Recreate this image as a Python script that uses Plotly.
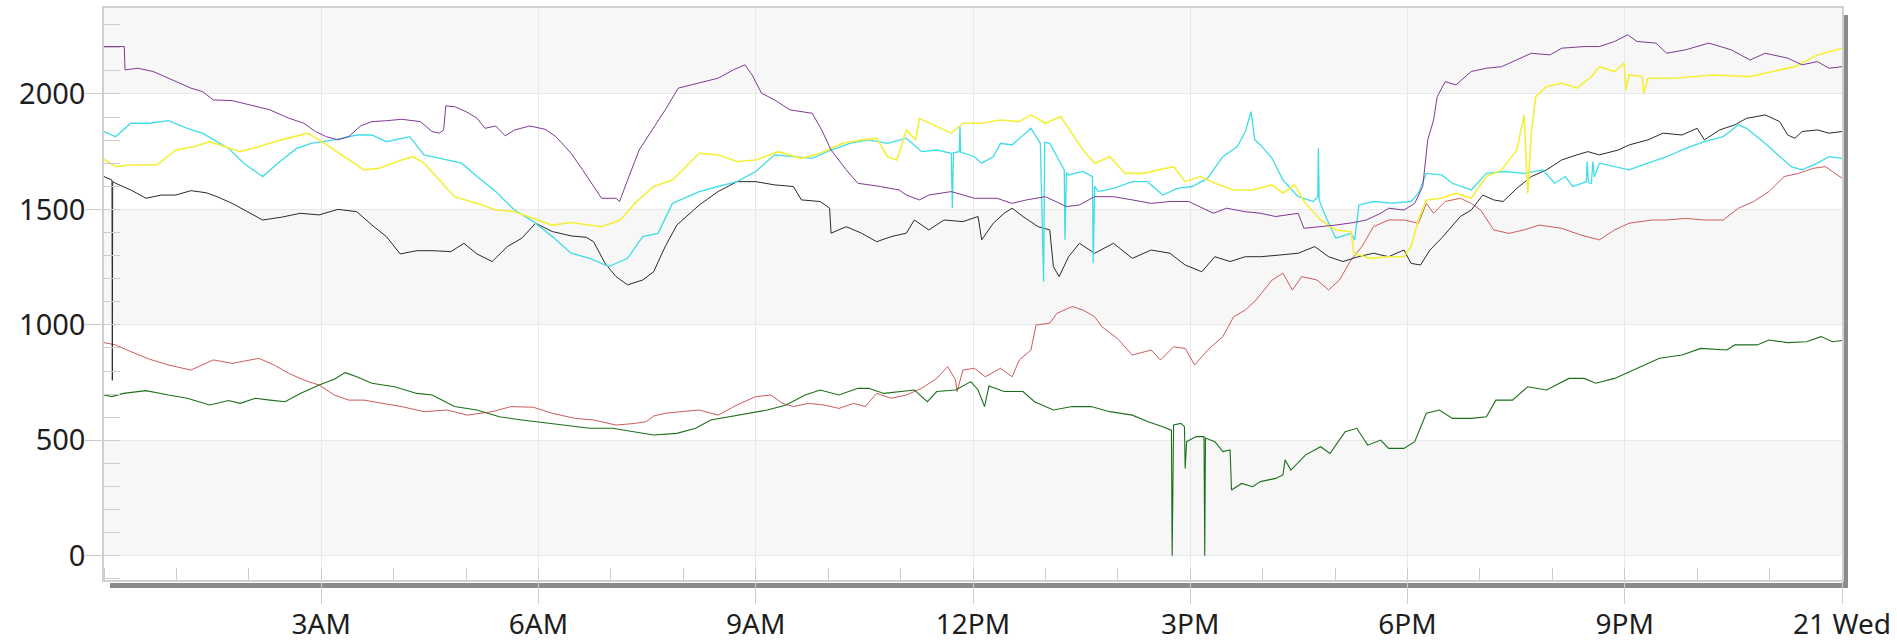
import plotly.graph_objects as go

# Readings over one day, x in hours since midnight.
purple_h = [0.0, 0.28, 0.29, 0.47, 0.68, 1.0, 1.2, 1.36, 1.51, 1.77, 2.03, 2.29, 2.55, 2.76, 2.92, 3.07, 3.23, 3.38,
            3.54, 3.70, 3.90, 4.11, 4.37, 4.53, 4.63, 4.69, 4.72, 4.84, 5.0, 5.15, 5.26, 5.41, 5.54, 5.67, 5.88, 6.09,
            6.24, 6.45, 6.61, 6.76, 6.87, 7.07, 7.12, 7.23, 7.39, 7.54, 7.75, 7.93,
            8.22, 8.48, 8.69, 8.85, 8.95, 9.08, 9.26, 9.47, 9.78, 9.91, 10.04, 10.25, 10.41, 10.72, 10.98, 11.08, 11.26,
            11.39, 11.70, 12.02, 12.33, 12.54, 12.74, 13.0, 13.29, 13.47, 13.68, 13.94, 14.20, 14.46, 14.72, 14.98,
            15.32, 15.50, 15.76,
            15.97, 16.18, 16.49, 16.57, 16.80, 17.01, 17.26, 17.43, 17.63, 17.74, 17.95, 18.10, 18.21, 18.28, 18.36,
            18.41, 18.52, 18.67, 18.88, 19.09, 19.30, 19.51, 19.71, 19.97, 20.13, 20.44, 20.65, 20.86, 21.04, 21.17,
            21.43, 21.58, 21.84, 22.16, 22.47, 22.73, 22.94, 23.25, 23.45, 23.66, 23.82, 24.0]
purple_v = [2205, 2205, 2104, 2111, 2097, 2053, 2025, 2010, 1974, 1971, 1952, 1931, 1895, 1873, 1837, 1815, 1801, 1815,
            1861, 1880, 1884, 1890, 1880, 1837, 1830, 1844, 1948, 1945, 1923, 1895, 1851, 1861, 1818, 1844, 1861, 1847,
            1815, 1743, 1671, 1599, 1548, 1548, 1534, 1627, 1757, 1830, 1931, 2025,
            2046, 2068, 2104, 2126, 2082, 2003, 1974, 1931, 1916, 1844, 1757, 1671, 1613, 1599, 1584, 1562, 1541,
            1562, 1577, 1548, 1548, 1526, 1541, 1555, 1512, 1519, 1555, 1555, 1541, 1526, 1534, 1534,
            1483, 1505, 1490,
            1483, 1469, 1483, 1418, 1425, 1432, 1443, 1454, 1483, 1505, 1497, 1526, 1599, 1801, 1887,
            1988, 2053, 2039, 2097, 2111, 2118, 2147, 2176, 2169, 2198, 2205, 2205, 2227, 2256, 2227,
            2220, 2176, 2191, 2220, 2191, 2147, 2176, 2155, 2126, 2140, 2111, 2118]

yellow_h = [0.0, 0.16, 0.37, 0.73, 0.99, 1.25, 1.46, 1.67, 1.88, 2.14, 2.45, 2.81, 2.97, 3.18, 3.38, 3.59, 3.80, 4.11,
            4.27, 4.42, 4.63, 4.84, 5.15, 5.41, 5.67, 5.98, 6.19, 6.45, 6.87, 7.13, 7.33, 7.59, 7.85,
            8.22, 8.48, 8.74, 9.0, 9.31, 9.63, 9.89, 10.2, 10.46, 10.67, 10.82, 10.95, 11.08, 11.21, 11.26, 11.50,
            11.70, 11.86, 12.12, 12.38, 12.64, 12.80, 13.0, 13.21, 13.37, 13.52, 13.68, 13.89, 14.1, 14.36, 14.56,
            14.77, 14.93, 15.14, 15.34, 15.60, 15.86,
            16.13, 16.28, 16.44, 16.59, 16.8, 17.01, 17.22, 17.26, 17.48, 17.74, 17.95, 18.05, 18.15, 18.26, 18.47,
            18.67, 18.88, 19.09, 19.30, 19.51, 19.61, 19.66, 19.71, 19.77, 19.92, 20.13, 20.34, 20.54, 20.65, 20.86,
            20.99, 21.02, 21.06, 21.24, 21.26, 21.32, 21.69, 22.21, 22.73, 23.04, 23.35, 23.66, 24.0]
yellow_v = [1717, 1685, 1692, 1692, 1757, 1772, 1793, 1772, 1750, 1772, 1801, 1830, 1801, 1757, 1714, 1671, 1678, 1714,
            1728, 1700, 1627, 1555, 1526, 1497, 1490, 1454, 1432, 1443, 1425, 1454, 1526, 1599, 1627,
            1743, 1736, 1707, 1714, 1750, 1721, 1743, 1786, 1801, 1808, 1728, 1714, 1844, 1801, 1894, 1858,
            1830, 1873, 1873, 1887, 1880, 1909, 1873, 1902, 1830, 1757, 1700, 1728, 1656, 1656, 1671,
            1685, 1620, 1642, 1613, 1584, 1584,
            1606, 1570, 1606, 1526, 1454, 1411, 1403, 1310, 1288, 1295, 1295, 1339, 1454, 1541, 1548,
            1570, 1548, 1642, 1671, 1757, 1909, 1570, 1830, 1988, 2032, 2046, 2025, 2075, 2118, 2097,
            2133, 2017, 2082, 2075, 2003, 2068, 2068, 2082, 2075, 2097, 2118, 2169, 2198]

cyan_h = [0.0, 0.16, 0.37, 0.63, 0.89, 1.15, 1.36, 1.51, 1.72, 1.93, 2.19, 2.40, 2.66, 2.86, 3.18, 3.49, 3.70, 3.90,
          4.22, 4.42, 4.63, 4.94, 5.15, 5.41, 5.67, 5.93, 6.19, 6.45, 6.71, 6.97, 7.23, 7.44, 7.65, 7.85, 7.96,
          8.22, 8.48, 8.74, 9.0, 9.26, 9.52, 9.78, 10.04, 10.30, 10.56, 10.82, 11.08, 11.29, 11.50, 11.70, 11.715,
          11.73, 11.81, 11.82, 11.83, 12.02, 12.12, 12.28, 12.38, 12.54, 12.80, 12.93, 12.975, 12.99, 13.06, 13.16,
          13.26, 13.27, 13.29, 13.32, 13.52, 13.65, 13.66, 13.68, 13.73, 13.94, 14.20, 14.41, 14.62, 14.82, 15.03,
          15.24, 15.45, 15.65, 15.76, 15.84, 15.89,
          15.97, 16.13, 16.28, 16.49, 16.70, 16.76, 16.77, 16.78, 16.85, 17.01, 17.22, 17.27, 17.33, 17.53, 17.79,
          18.05, 18.15, 18.26, 18.47, 18.62, 18.88, 19.09, 19.35, 19.61, 19.87, 20.03, 20.18, 20.28, 20.47, 20.48,
          20.50, 20.54, 20.56, 20.58, 20.65, 20.86, 21.06, 21.32, 21.58, 21.84, 22.10, 22.36, 22.57, 22.68, 22.88,
          23.09, 23.30, 23.45, 23.66, 23.82, 24.0]
cyan_v = [1837, 1815, 1873, 1873, 1884, 1851, 1830, 1801, 1764, 1700, 1642, 1700, 1764, 1786, 1801, 1822, 1822, 1793,
          1815, 1736, 1721, 1700, 1642, 1577, 1497, 1447, 1382, 1310, 1288, 1252, 1288, 1382, 1396, 1526, 1541,
          1577, 1599, 1620, 1664, 1736, 1728, 1721, 1757, 1786, 1801, 1786, 1808, 1750, 1757, 1743, 1505,
          1745, 1750, 1858, 1748, 1728, 1700, 1728, 1786, 1779, 1851, 1786, 1187, 1790, 1786, 1728,
          1671, 1368, 1660, 1649, 1664, 1642, 1267, 1600, 1577, 1591, 1620, 1620, 1562, 1591, 1599,
          1635, 1728, 1772, 1837, 1923, 1801,
          1779, 1721, 1627, 1555, 1534, 1555, 1765, 1540, 1483, 1375, 1396, 1368, 1519, 1534, 1527,
          1534, 1570, 1656, 1649, 1613, 1584, 1656, 1664, 1656, 1671, 1613, 1642, 1599, 1620, 1707,
          1615, 1613, 1707, 1640, 1700, 1685, 1671, 1700, 1728, 1764, 1793, 1815, 1866, 1851, 1801,
          1743, 1685, 1671, 1700, 1728, 1721]

black_h = [0.0, 0.11, 0.115, 0.12, 0.16, 0.37, 0.58, 0.79, 0.99, 1.2, 1.41, 1.56, 1.77, 2.03, 2.19, 2.45, 2.71, 2.97,
           3.23, 3.49, 3.70, 3.90, 4.09, 4.32, 4.53, 4.79, 4.97, 5.15, 5.36, 5.57, 5.77, 5.96, 6.19, 6.45, 6.66, 6.76,
           6.92, 7.07, 7.23, 7.44, 7.59, 7.75, 7.91,
           8.22, 8.48, 8.74, 9.0, 9.26, 9.52, 9.63, 9.89, 10.02, 10.04, 10.25, 10.46, 10.67, 10.87, 11.08, 11.19,
           11.39, 11.60, 11.86, 12.07, 12.12, 12.28, 12.43, 12.54, 12.69, 12.90, 13.06, 13.11, 13.19, 13.32, 13.47,
           13.68, 13.94, 14.20, 14.46, 14.72, 14.93, 15.16, 15.34, 15.55, 15.76,
           15.97, 16.23, 16.49, 16.72, 16.91, 17.11, 17.32, 17.53, 17.74, 17.95, 18.05, 18.18, 18.31, 18.47, 18.57,
           18.73, 18.88, 19.04, 19.19, 19.32, 19.51, 19.71, 19.92, 20.13, 20.34, 20.49, 20.65, 20.91, 21.06, 21.32,
           21.53, 21.79, 22.0, 22.10, 22.31, 22.52, 22.68, 22.94, 23.14, 23.25, 23.35, 23.45, 23.66, 23.82, 24.0]
black_v = [1642, 1627, 760, 1620, 1613, 1584, 1548, 1562, 1562, 1581, 1572, 1555, 1526, 1483, 1454, 1466, 1483, 1476,
           1500, 1490, 1432, 1382, 1307, 1321, 1321, 1317, 1353, 1307, 1274, 1339, 1375, 1440, 1404, 1385, 1379, 1360,
           1266, 1209, 1173, 1194, 1230, 1339, 1432,
           1519, 1577, 1620, 1620, 1606, 1599, 1541, 1534, 1505, 1397, 1425, 1397, 1360, 1382, 1397, 1454,
           1411, 1454, 1447, 1469, 1368, 1440, 1483, 1505, 1469, 1425, 1411, 1252, 1209, 1295, 1353,
           1310, 1353, 1288, 1324, 1310, 1259, 1230, 1295, 1274, 1295,
           1295, 1302, 1310, 1339, 1295, 1274, 1295, 1310, 1295, 1324, 1266, 1259, 1324, 1375, 1411,
           1469, 1497, 1562, 1541, 1534, 1591, 1642, 1671, 1714, 1736, 1750, 1736, 1757, 1779, 1801,
           1830, 1822, 1851, 1801, 1844, 1866, 1894, 1909, 1880, 1822, 1808, 1837, 1844, 1830, 1837]

red_h = [0.0, 0.16, 0.37, 0.63, 0.89, 1.2, 1.51, 1.77, 2.14, 2.35, 2.55, 2.76, 2.97, 3.18, 3.38, 3.59, 3.90, 4.11,
         4.42, 4.74, 5.02, 5.36, 5.62, 5.93, 6.19, 6.50, 6.76, 7.07, 7.33, 7.49, 7.59, 7.75,
         7.96, 8.22, 8.48, 8.74, 9.0, 9.21, 9.37, 9.52, 9.73, 9.94, 10.15, 10.35, 10.51, 10.67, 10.87, 11.08, 11.29,
         11.50, 11.65, 11.76, 11.78, 11.86, 12.02, 12.17, 12.38, 12.54, 12.64, 12.80, 12.87, 13.06, 13.16, 13.37,
         13.52, 13.68, 13.78, 13.99, 14.20, 14.46, 14.59, 14.77, 14.93, 15.06, 15.24, 15.45, 15.60, 15.76, 15.91,
         16.13, 16.28, 16.41, 16.54, 16.75, 16.91, 17.06, 17.22, 17.37, 17.53, 17.74, 17.95, 18.15, 18.26, 18.36,
         18.52, 18.73, 18.88, 19.01, 19.19, 19.40, 19.61, 19.82, 20.13, 20.39, 20.65, 20.86, 21.06, 21.38, 21.58,
         21.84, 22.10, 22.36, 22.57, 22.78, 22.99, 23.20, 23.40, 23.61, 23.77, 24.0]
red_v = [923, 913, 884, 851, 826, 804, 848, 833, 855, 826, 790, 761, 739, 696, 674, 674, 657, 646,
         624, 631, 609, 624, 646, 643, 617, 595, 588, 566, 573, 581, 605, 617,
         624, 631, 609, 653, 689, 696, 660, 646, 660, 653, 638, 660, 646, 703, 682, 696, 725,
         768, 819, 761, 711, 804, 812, 775, 812, 775, 848, 891, 999, 1007, 1050, 1079,
         1064, 1035, 992, 942, 869, 891, 848, 905, 898, 826, 891, 949, 1035, 1064, 1108,
         1194, 1223, 1151, 1209, 1194, 1151, 1194, 1281, 1339, 1425, 1454, 1454, 1440, 1526, 1483,
         1534, 1548, 1526, 1497, 1411, 1396, 1411, 1432, 1418, 1389, 1368, 1411, 1440, 1454, 1454,
         1461, 1454, 1454, 1505, 1534, 1577, 1642, 1656, 1678, 1685, 1635]

green_h = [0.0, 0.11, 0.27, 0.58, 0.89, 1.15, 1.46, 1.72, 1.88, 2.09, 2.29, 2.50, 2.71, 2.97, 3.18, 3.33, 3.49, 3.70,
           4.01, 4.32, 4.53, 4.84, 5.15, 5.46, 5.77, 6.09, 6.40, 6.71, 7.02, 7.33, 7.59, 7.91,
           8.17, 8.38, 8.64, 8.90, 9.16, 9.42, 9.68, 9.89, 10.15, 10.41, 10.56, 10.77, 10.98, 11.19, 11.37, 11.50,
           11.76, 11.97, 12.07, 12.16, 12.22, 12.43, 12.69, 12.85, 13.11, 13.37, 13.63, 13.89, 14.20, 14.41, 14.62,
           14.74, 14.75, 14.76, 14.77, 14.87, 14.92, 14.93, 14.95, 15.08, 15.19, 15.20, 15.21, 15.34, 15.45, 15.55,
           15.57, 15.71, 15.86,
           15.97, 16.18, 16.28, 16.31, 16.39, 16.59, 16.80, 16.93, 17.01, 17.14, 17.30, 17.45, 17.63, 17.74, 17.95,
           18.10, 18.26, 18.44, 18.62, 18.88, 19.09, 19.22, 19.45, 19.66, 19.92, 20.23, 20.44, 20.60, 20.86, 21.17,
           21.48, 21.79, 22.05, 22.41, 22.52, 22.83, 22.99, 23.25, 23.51, 23.71, 23.87, 24.0]
green_v = [696, 689, 703, 715, 696, 682, 653, 672, 660, 682, 674, 667, 703, 739, 764, 793, 775, 747,
           732, 703, 696, 646, 631, 602, 588, 576, 566, 552, 552, 537, 523, 530,
           552, 588, 602, 617, 631, 653, 696, 718, 696, 725, 725, 703, 711, 718, 667, 711,
           718, 754, 718, 646, 735, 711, 711, 667, 631, 646, 646, 624, 609, 581, 559,
           544, 0, 544, 566, 573, 559, 378, 494, 516, 516, 0, 510, 494, 451, 458,
           285, 313, 299,
           321, 335, 350, 415, 371, 436, 472, 443, 479, 537, 552, 479, 501, 465, 465,
           494, 617, 631, 595, 595, 602, 674, 674, 732, 718, 768, 768, 747, 768, 812,
           855, 869, 898, 891, 913, 913, 934, 923, 927, 949, 927, 932]

x_ticks = [3, 6, 9, 12, 15, 18, 21, 24]
x_labels = ["3AM", "6AM", "9AM", "12PM", "3PM", "6PM", "9PM", "21 Wed"]
y_ticks = [0, 500, 1000, 1500, 2000]

# figure geometry (pixels)
W, H = 1897, 643
ML, MR, MT, MB = 104, 55, 8, 63
PW, PH = W - ML - MR, H - MT - MB
Y_RANGE = [-105, 2372]

fig = go.Figure()

traces = [
    (red_h, red_v, "#cf5b5b", 1.0),
    (green_h, green_v, "#1c6f1c", 1.1),
    (black_h, black_v, "#2a2a2a", 1.0),
    (cyan_h, cyan_v, "#3fdde8", 1.3),
    (yellow_h, yellow_v, "#f4f03a", 1.6),
    (purple_h, purple_v, "#7e3a92", 1.0),
]
for hx, vy, col, w in traces:
    fig.add_trace(go.Scatter(x=hx, y=vy, mode="lines", line=dict(color=col, width=w),
                             hoverinfo="skip", showlegend=False))

shapes = []
# alternating horizontal bands
for lo, hi in [(0, 500), (1000, 1500), (2000, Y_RANGE[1])]:
    shapes.append(dict(type="rect", xref="paper", yref="y", x0=0, x1=1, y0=lo, y1=hi,
                       fillcolor="#f7f7f7", line=dict(width=0), layer="below"))

# drop shadow along the right and bottom edges of the plot frame
def px_x(p):
    return (p - ML) / PW

def px_y(p):
    return (H - MB - p) / PH

shadow = "#8a8a8a"
shapes.append(dict(type="rect", xref="paper", yref="paper",
                   x0=px_x(ML + PW + 1), x1=px_x(ML + PW + 6), y0=px_y(MT + PH + 8), y1=px_y(MT + 7),
                   fillcolor=shadow, line=dict(width=0), layer="below"))
shapes.append(dict(type="rect", xref="paper", yref="paper",
                   x0=px_x(ML + 6), x1=px_x(ML + PW + 6), y0=px_y(MT + PH + 8), y1=px_y(MT + PH + 3),
                   fillcolor=shadow, line=dict(width=0), layer="below"))

font = dict(family="Noto Sans, Open Sans, sans-serif", size=29, color="#1e1e1e")
xfont = dict(family="Noto Sans, Open Sans, sans-serif", size=28, color="#1e1e1e")

fig.update_layout(
    width=W, height=H,
    margin=dict(l=ML, r=MR, t=MT, b=MB, pad=0),
    paper_bgcolor="white", plot_bgcolor="white",
    font=font,
    shapes=shapes,
    xaxis=dict(range=[0, 24], tickmode="array", tickvals=x_ticks, ticktext=x_labels,
               ticks="outside", ticklen=22, tickwidth=1, tickcolor="#cdcdcd",
               showgrid=True, gridcolor="#e8e8e8", gridwidth=1, zeroline=False,
               showline=True, mirror=True, linecolor="#d0d0d0", linewidth=1.5,
               minor=dict(dtick=1, tick0=0, ticks="inside", ticklen=12, tickcolor="#cdcdcd", showgrid=False),
               tickfont=xfont, ticklabelstandoff=-3, automargin=False, fixedrange=True),
    yaxis=dict(range=Y_RANGE, tickmode="array", tickvals=y_ticks,
               ticks="outside", ticklen=17, tickwidth=1, tickcolor="#cdcdcd",
               showgrid=True, gridcolor="#e8e8e8", gridwidth=1, zeroline=False,
               showline=True, mirror=True, linecolor="#d0d0d0", linewidth=1.5,
               minor=dict(dtick=100, tick0=0, ticks="inside", ticklen=16, tickcolor="#cdcdcd", showgrid=False),
               tickfont=font, ticklabelstandoff=-6, automargin=False, fixedrange=True),
)

fig.write_html("out.html")
